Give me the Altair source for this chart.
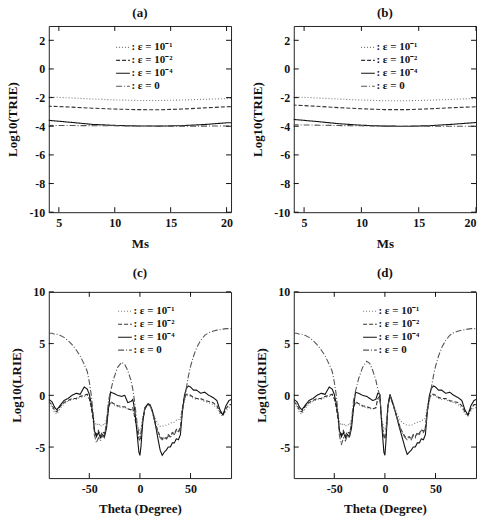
import altair as alt
import pandas as pd

FONT = "Liberation Serif"

series_labels = [": ε = 10⁻¹", ": ε = 10⁻²", ": ε = 10⁻⁴", ": ε = 0"]

# ---------- panels (a), (b): Log10(TRIE) vs Ms ----------
ms = [4, 6, 8, 10, 12, 14, 16, 18, 20, 21]
a_e1 = [-1.95, -2.02, -2.1, -2.16, -2.2, -2.2, -2.17, -2.12, -2.07, -2.05]
a_e2 = [-2.6, -2.66, -2.74, -2.8, -2.84, -2.85, -2.8, -2.72, -2.64, -2.62]
a_e4 = [-3.58, -3.72, -3.87, -3.94, -3.98, -3.99, -3.96, -3.88, -3.76, -3.74]
a_e0 = [-3.94, -3.95, -3.96, -3.97, -3.98, -3.99, -3.99, -3.99, -3.98, -3.98]

ms_b = [4, 6, 8, 10, 12, 14, 16, 18, 20]
b_e1 = [-1.95, -2.02, -2.1, -2.17, -2.22, -2.22, -2.18, -2.12, -2.06]
b_e2 = [-2.52, -2.6, -2.7, -2.78, -2.84, -2.84, -2.78, -2.7, -2.64]
b_e4 = [-3.52, -3.66, -3.82, -3.93, -3.99, -4.0, -3.96, -3.86, -3.74]
b_e0 = [-3.9, -3.92, -3.95, -3.97, -3.99, -4.0, -4.0, -4.0, -4.0]

# ---------- panels (c), (d): Log10(LRIE) vs Theta ----------
theta = [-90, -87, -84, -82, -79, -75, -71, -67, -63, -59, -55, -52, -50, -48, -46,
         -45, -43, -41, -39, -37, -35, -33, -31, -29, -26, -22, -18, -15, -12, -9,
         -7, -5, -3, -1, 0, 1, 3, 5, 8, 10, 12, 14, 16, 18, 20,
         22, 24, 26, 28, 30, 32, 34, 36, 38, 40, 42, 44, 46, 48, 50,
         53, 56, 60, 64, 68, 72, 76, 79, 82, 85, 88, 90]

c_e4 = [-0.4, -0.6, -1.2, -1.4, -1.0, -0.5, -0.3, 0.0, 0.2, 0.1, 0.8, 0.6, 0.1, -0.8, -2.2,
        -3.4, -4.0, -3.6, -4.1, -3.8, -4.0, -3.2, -1.2, 0.3, 0.2, 0.0, -0.1, 0.0, -0.7, -0.6,
        -0.4, -1.5, -3.5, -5.5, -5.8, -5.0, -2.4, -1.2, -0.8, -0.9, -1.4, -2.2, -3.2, -4.3, -5.3,
        -5.8, -5.5, -5.3, -5.0, -5.0, -4.6, -4.6, -4.2, -4.3, -3.8, -1.5, 0.0, 0.7, 0.9, 0.8,
        0.5, 0.5, 0.2, 0.3, 0.0, -0.2, -0.5, -1.4, -1.9, -1.0, -0.5, -0.4]
c_e2 = [-0.6, -0.9, -1.5, -1.6, -1.1, -0.7, -0.5, -0.3, -0.3, -0.1, 0.0, 0.1, -0.3, -1.2, -2.5,
        -3.3, -3.8, -3.4, -3.9, -3.5, -3.7, -2.8, -1.2, -0.6, -0.8, -1.0, -1.1, -1.1, -1.3, -1.4,
        -1.2, -2.2, -3.2, -4.2, -4.4, -4.0, -2.3, -1.3, -0.9, -1.0, -1.5, -2.2, -2.9, -3.5, -4.0,
        -4.2, -4.0, -4.2, -3.8, -4.0, -3.6, -3.7, -3.3, -3.5, -3.1, -1.3, -0.2, 0.1, 0.1, 0.0,
        -0.2, -0.3, -0.3, -0.5, -0.6, -0.7, -1.0, -1.6, -1.9, -1.3, -0.9, -0.9]
c_e1 = [-0.8, -1.1, -1.7, -1.8, -1.3, -0.8, -0.6, -0.4, -0.4, -0.2, -0.1, 0.0, -0.4, -1.1, -2.0,
        -2.5, -2.9, -2.7, -3.0, -2.8, -2.9, -2.3, -1.1, -0.7, -0.9, -1.1, -1.2, -1.2, -1.3, -1.4,
        -1.3, -2.0, -2.8, -3.3, -3.4, -3.2, -2.0, -1.2, -0.9, -1.0, -1.4, -1.9, -2.4, -2.8, -3.0,
        -3.0, -2.9, -2.9, -2.8, -2.7, -2.6, -2.6, -2.4, -2.4, -2.2, -1.1, -0.3, 0.0, 0.0, -0.1,
        -0.3, -0.4, -0.4, -0.6, -0.7, -0.9, -1.2, -1.8, -2.0, -1.5, -1.2, -1.2]
c_e0 = [6.0, 6.0, 5.9, 5.9, 5.8, 5.6, 5.3, 4.9, 4.4, 3.8, 3.0, 2.3, 1.3, 0.0, -2.0,
        -3.8, -4.6, -4.1, -4.4, -3.9, -4.1, -2.5, -0.5, 0.4, 1.6, 2.7, 3.2, 3.0, 2.4, 1.5,
        0.6, -0.8, -2.5, -3.8, -4.0, -3.6, -2.2, -1.2, -0.9, -1.0, -1.5, -2.3, -3.1, -3.7, -4.1,
        -4.3, -4.1, -4.3, -3.9, -4.1, -3.7, -3.8, -3.4, -3.6, -3.2, -1.5, -0.5, 0.8, 1.9, 2.8,
        3.8, 4.6, 5.3, 5.8, 6.05, 6.2, 6.3, 6.35, 6.4, 6.45, 6.45, 6.45]

d_e4 = [-0.4, -0.6, -1.2, -1.4, -1.0, -0.5, -0.3, 0.0, 0.2, 0.1, 0.8, 0.6, 0.1, -0.8, -2.2,
        -3.4, -4.0, -3.6, -4.1, -3.8, -4.0, -3.2, -1.2, 0.3, 0.2, 0.0, -0.1, -0.3, -0.5, -0.4,
        0.2, 0.1, -3.0, -5.5, -5.8, -4.5, -1.0, 0.1, -0.8, -1.5, -2.2, -3.0, -3.7, -4.4, -5.1,
        -5.7, -5.5, -5.3, -5.0, -5.0, -4.6, -4.6, -4.2, -4.3, -3.8, -1.5, 0.0, 0.7, 0.9, 0.8,
        0.5, 0.5, 0.2, 0.3, 0.0, -0.2, -0.5, -1.4, -1.9, -1.0, -0.5, -0.4]
d_e2 = [-0.6, -0.9, -1.5, -1.6, -1.1, -0.7, -0.5, -0.3, -0.3, -0.1, 0.0, 0.1, -0.3, -1.2, -2.5,
        -3.3, -3.8, -3.4, -3.9, -3.5, -3.7, -2.8, -1.2, -0.6, -0.8, -1.0, -1.1, -1.2, -1.3, -1.2,
        -0.3, -0.1, -2.8, -4.0, -4.2, -3.8, -1.2, 0.0, -0.9, -1.5, -2.1, -2.8, -3.3, -3.7, -4.0,
        -4.1, -4.0, -4.2, -3.8, -4.0, -3.6, -3.7, -3.3, -3.5, -3.1, -1.3, -0.2, 0.1, 0.1, 0.0,
        -0.2, -0.3, -0.3, -0.5, -0.6, -0.7, -1.0, -1.6, -1.9, -1.3, -0.9, -0.9]
d_e1 = [-0.8, -1.1, -1.7, -1.8, -1.3, -0.8, -0.6, -0.4, -0.4, -0.2, -0.1, 0.0, -0.4, -1.1, -2.0,
        -2.5, -2.9, -2.7, -3.0, -2.8, -2.9, -2.3, -1.1, -0.7, -0.9, -1.1, -1.2, -1.3, -1.3, -1.3,
        -0.4, -0.2, -2.4, -3.2, -3.3, -3.0, -1.0, 0.0, -0.8, -1.3, -1.8, -2.2, -2.5, -2.7, -2.8,
        -2.9, -2.9, -2.9, -2.8, -2.7, -2.6, -2.6, -2.4, -2.4, -2.2, -1.1, -0.3, 0.0, 0.0, -0.1,
        -0.3, -0.4, -0.4, -0.6, -0.7, -0.9, -1.2, -1.8, -2.0, -1.5, -1.2, -1.2]
d_e0 = [6.0, 6.0, 5.9, 5.9, 5.8, 5.6, 5.3, 4.9, 4.4, 3.8, 3.0, 2.3, 1.3, 0.0, -2.0,
        -3.8, -4.8, -4.1, -4.4, -3.9, -4.1, -2.5, -0.5, 0.4, 1.6, 2.7, 3.3, 3.1, 2.4, 1.5,
        0.6, 0.0, -2.6, -3.8, -4.0, -3.6, -1.1, 0.0, -0.9, -1.5, -2.2, -2.9, -3.4, -3.8, -4.1,
        -4.3, -4.1, -4.3, -3.9, -4.1, -3.7, -3.8, -3.4, -3.6, -3.2, -1.5, -0.5, 0.8, 1.9, 2.8,
        3.8, 4.6, 5.3, 5.8, 6.05, 6.2, 6.3, 6.35, 6.4, 6.45, 6.45, 6.45]

W, H = 183, 187
TICK = 5


def make_df(x, cols):
    rows = []
    for lab, vals in zip(series_labels, cols):
        for xv, yv in zip(x, vals):
            rows.append({"x": xv, "y": yv, "series": lab})
    return pd.DataFrame(rows)


def panel(df, xdom, ydom, xticks, yticks, xtitle, ytitle, title, lx, ly):
    xs = alt.Scale(domain=xdom, nice=False, zero=False)
    ys = alt.Scale(domain=ydom, nice=False, zero=False)
    axis_common = dict(
        ticks=False, domain=False, grid=False,
        labelFont=FONT, labelFontSize=12, labelFontWeight="bold", labelColor="#111",
        titleFont=FONT, titleFontSize=13, titleFontWeight="bold", titleColor="#111",
        labelExpr="replace(datum.label, '\u2212', '-')",
    )
    xaxis = alt.Axis(values=xticks, titlePadding=9, labelPadding=5, **axis_common)
    yaxis = alt.Axis(values=yticks, titlePadding=9, labelPadding=4, **axis_common)
    legend = alt.Legend(
        title=None, orient="none", legendX=lx, legendY=ly,
        symbolType="stroke", symbolSize=190,
        labelFont=FONT, labelFontSize=11, labelFontWeight="bold", labelColor="#111",
        rowPadding=0, labelOffset=1, padding=0,
    )
    lines = alt.Chart(df).mark_line(clip=True).encode(
        x=alt.X("x:Q", scale=xs, title=xtitle, axis=xaxis),
        y=alt.Y("y:Q", scale=ys, title=ytitle, axis=yaxis),
        strokeDash=alt.StrokeDash("series:N", scale=alt.Scale(
            domain=series_labels, range=[[1, 2], [4, 2], [1, 0], [6, 2, 1, 2]]), legend=legend),
        color=alt.Color("series:N", scale=alt.Scale(
            domain=series_labels, range=["#777777", "#333333", "#111111", "#555555"]), legend=legend),
        strokeWidth=alt.StrokeWidth("series:N", scale=alt.Scale(
            domain=series_labels, range=[1.1, 1.1, 1.4, 1.0]), legend=legend),
    )
    xt = pd.DataFrame({"x": xticks})
    yt = pd.DataFrame({"y": yticks})
    bottom = alt.Chart(xt).mark_rule(color="#111").encode(
        x=alt.X("x:Q", scale=xs, title=xtitle, axis=xaxis), y=alt.value(H), y2=alt.value(H - TICK))
    top = alt.Chart(xt).mark_rule(color="#111").encode(
        x=alt.X("x:Q", scale=xs, title=xtitle, axis=xaxis), y=alt.value(0), y2=alt.value(TICK))
    left = alt.Chart(yt).mark_rule(color="#111").encode(
        y=alt.Y("y:Q", scale=ys, title=ytitle, axis=yaxis), x=alt.value(0), x2=alt.value(TICK))
    right = alt.Chart(yt).mark_rule(color="#111").encode(
        y=alt.Y("y:Q", scale=ys, title=ytitle, axis=yaxis), x=alt.value(W), x2=alt.value(W - TICK))
    return alt.layer(lines, bottom, top, left, right).properties(
        width=W, height=H,
        title=alt.TitleParams(title, font=FONT, fontSize=13, fontWeight="bold",
                              color="#111", offset=6),
    )


pa = panel(make_df(ms, [a_e1, a_e2, a_e4, a_e0]), [4.1, 20.4], [-10, 3],
           [5, 10, 15, 20], [-10, -8, -6, -4, -2, 0, 2], "Ms", "Log10(TRIE)", "(a)", 67, 14)
pb = panel(make_df(ms_b, [b_e1, b_e2, b_e4, b_e0]), [4.1, 20], [-10, 3],
           [5, 10, 15, 20], [-10, -8, -6, -4, -2, 0, 2], "Ms", "Log10(TRIE)", "(b)", 67, 14)
pc = panel(make_df(theta, [c_e1, c_e2, c_e4, c_e0]), [-90, 90], [-8, 10],
           [-50, 0, 50], [-5, 0, 5, 10], "Theta (Degree)", "Log10(LRIE)", "(c)", 69, 12)
pd_ = panel(make_df(theta, [d_e1, d_e2, d_e4, d_e0]), [-90, 90], [-8, 10],
            [-50, 0, 50], [-5, 0, 5, 10], "Theta (Degree)", "Log10(LRIE)", "(d)", 69, 12)

chart = alt.concat(pa, pb, pc, pd_, columns=2, spacing={"row": 15, "column": 17}).properties(
    padding={"left": 6, "top": 5, "right": 2, "bottom": 0},
    background="white",
).configure_view(stroke="#222", strokeWidth=1).resolve_scale(
    x="independent", y="independent", strokeDash="independent", color="independent",
    strokeWidth="independent")

chart.save("out.html", embed_options={"renderer": "svg", "actions": False})
